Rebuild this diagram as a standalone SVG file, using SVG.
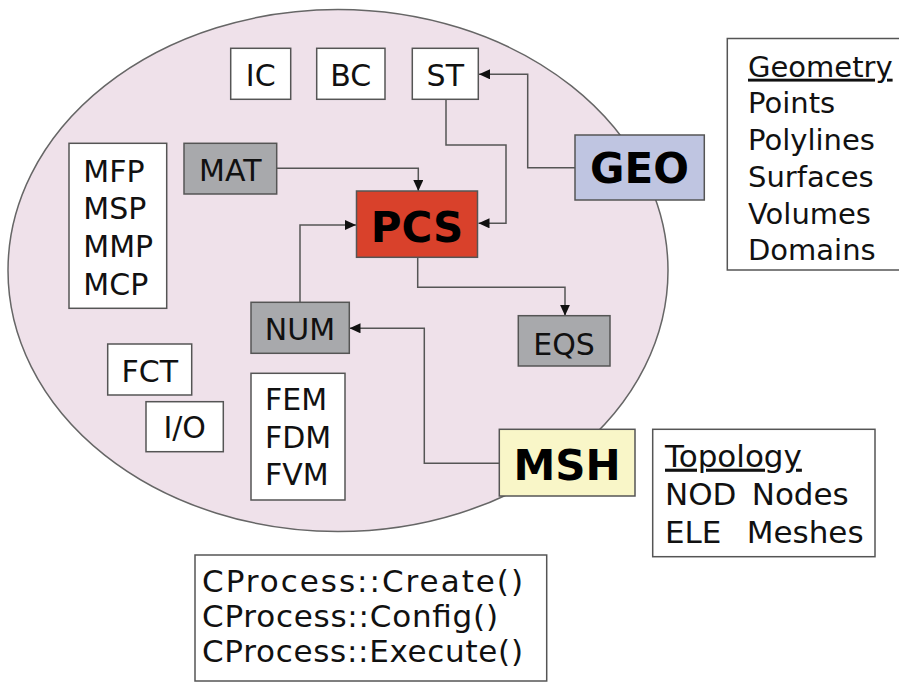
<svg xmlns="http://www.w3.org/2000/svg" width="899" height="682" viewBox="0 0 899 682">
<defs>
<style>
text{font-family:"DejaVu Sans","Verdana",sans-serif;fill:#111}
.box{stroke:#555;stroke-width:1.5}
.w{fill:#fff}
.g{fill:#a8a9ac}
.t{font-size:30px}
.c{text-anchor:middle}
.b{font-weight:bold;font-size:42px;fill:#000}
.list{font-size:29px}
.topo{font-size:31px}
.proc{font-size:31px}
.conn{fill:none;stroke:#555;stroke-width:1.5}
</style>
<marker id="ah" markerUnits="userSpaceOnUse" markerWidth="12" markerHeight="10" refX="11" refY="5" orient="auto">
<path d="M0,0 L11,5 L0,10 z" fill="#111"/>
</marker>
</defs>
<rect width="899" height="682" fill="#fff"/>
<ellipse id="domain" cx="338" cy="270.5" rx="330" ry="261" fill="#efe1ea" stroke="#666" stroke-width="1.5"/>

<g id="connectors">
<path class="conn" d="M575,167.7 H527.7 V74.3 H479" marker-end="url(#ah)"/>
<path class="conn" d="M446,99.3 V145 H506 V223.3 H478.5" marker-end="url(#ah)"/>
<path class="conn" d="M276.7,168.3 H418.3 V191" marker-end="url(#ah)"/>
<path class="conn" d="M300,302.3 V225 H356" marker-end="url(#ah)"/>
<path class="conn" d="M417.7,257.3 V287.3 H565 V315.7" marker-end="url(#ah)"/>
<path class="conn" d="M499.3,463.3 H424.3 V328.3 H349.5" marker-end="url(#ah)"/>
</g>

<g id="IC"><rect class="box w" x="230.7" y="48.3" width="60" height="51"/><text class="t c" x="260.7" y="86">IC</text></g>
<g id="BC"><rect class="box w" x="316.7" y="48.3" width="68.3" height="51"/><text class="t c" x="350.8" y="86">BC</text></g>
<g id="ST"><rect class="box w" x="412.3" y="48.3" width="66" height="51"/><text class="t c" x="445.3" y="86">ST</text></g>

<g id="MAT"><rect class="box g" x="184" y="143.3" width="92.7" height="50.7"/><text class="t c" x="230.3" y="180.7">MAT</text></g>
<g id="PCS"><rect class="box" fill="#d9412b" x="356.5" y="191" width="121" height="66.3"/><text class="b c" x="417" y="241.7">PCS</text></g>
<g id="GEO"><rect class="box" fill="#bfc5e1" x="575" y="135" width="129.3" height="65"/><text class="b c" x="639.5" y="183.3">GEO</text></g>
<g id="NUM"><rect class="box g" x="251" y="302.3" width="98.3" height="51"/><text class="t c" x="300" y="340">NUM</text></g>
<g id="EQS"><rect class="box g" x="518.3" y="315.7" width="91.7" height="50.3"/><text class="t c" x="564" y="355">EQS</text></g>
<g id="MSH"><rect class="box" fill="#f9f6c8" x="499.3" y="429.3" width="135.7" height="66.7"/><text class="b c" x="567" y="480">MSH</text></g>

<g id="MFP"><rect class="box w" x="69" y="143.3" width="97.7" height="165"/>
<text class="t" x="83.3" y="181.7">MFP</text><text class="t" x="83.3" y="219.3">MSP</text><text class="t" x="83.3" y="257.3">MMP</text><text class="t" x="83.3" y="295">MCP</text></g>
<g id="FCT"><rect class="box w" x="107.7" y="344" width="84" height="51"/><text class="t c" x="149.7" y="381.7">FCT</text></g>
<g id="IO"><rect class="box w" x="146" y="401.7" width="77.3" height="50"/><text class="t c" x="184.7" y="438.3">I/O</text></g>
<g id="FEM"><rect class="box w" x="251" y="373.3" width="94" height="126.7"/>
<text class="t" x="265" y="410">FEM</text><text class="t" x="265" y="448.3">FDM</text><text class="t" x="265" y="485">FVM</text></g>

<g id="Geometry"><rect class="box w" x="727.3" y="38.5" width="185" height="231.5"/>
<text class="list" x="748" y="76.7" text-decoration="underline">Geometry</text>
<text class="list" x="748" y="113">Points</text>
<text class="list" x="748" y="150">Polylines</text>
<text class="list" x="748" y="186.7">Surfaces</text>
<text class="list" x="748" y="224">Volumes</text>
<text class="list" x="748" y="260">Domains</text></g>

<g id="Topology"><rect class="box w" x="652.7" y="429.3" width="222.3" height="127.4"/>
<text class="topo" x="665" y="466.7" text-decoration="underline">Topology</text>
<text class="topo" x="665" y="505">NOD<tspan x="751.7">Nodes</tspan></text>
<text class="topo" x="665" y="543">ELE<tspan x="746.7">Meshes</tspan></text></g>

<g id="CProcess"><rect class="box w" x="195" y="555" width="351.7" height="126"/>
<text class="proc" x="202" y="591.7" textLength="321" lengthAdjust="spacing">CProcess::Create()</text>
<text class="proc" x="202" y="626.7" textLength="296" lengthAdjust="spacing">CProcess::Config()</text>
<text class="proc" x="202" y="661.7" textLength="321" lengthAdjust="spacing">CProcess::Execute()</text></g>
</svg>
